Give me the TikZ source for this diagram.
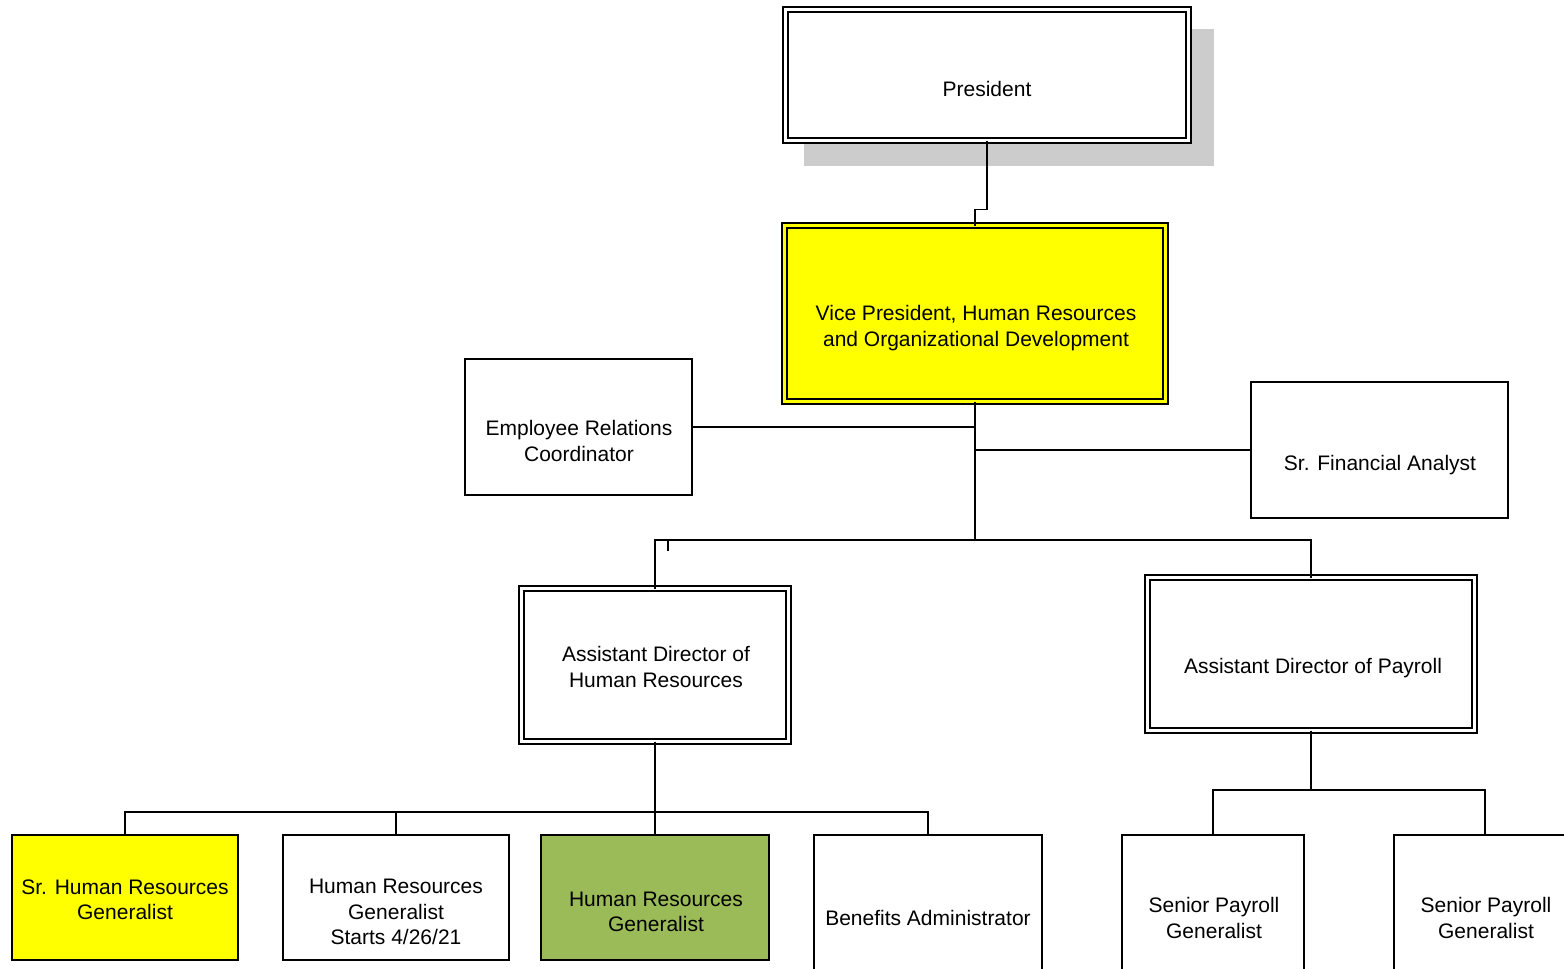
\documentclass[tikz,border=0pt]{standalone}
\usepackage{fontspec}
\setmainfont{Liberation Sans}
\definecolor{hryellow}{RGB}{255,255,0}
\definecolor{hrgreen}{RGB}{155,187,89}
\definecolor{shadowgray}{RGB}{204,204,204}

\begin{document}
\begin{tikzpicture}[x=1pt,y=-1pt,
  dblbox/.style={draw, line width=1.2pt, double=white, double distance=3.8pt,
    inner sep=0pt, outer sep=0pt},
  onebox/.style={draw, line width=1.5pt, inner sep=0pt, outer sep=0pt},
  txt/.style={align=center, inner sep=0pt, yshift=-2pt, font=\fontsize{21}{25.5}\selectfont},
  conn/.style={line width=1.5pt}]
\clip (0,0) rectangle (1564,969);

\fill[shadowgray] (804,29) rectangle (1214,166);
\node[dblbox, fill=white, minimum width=403, minimum height=131] (pres) at (987,75) {};
\node[dblbox, fill=hryellow, double=hryellow, minimum width=381, minimum height=176] (vp) at (975,313.5) {};
\node[onebox, minimum width=227, minimum height=136] (emp) at (578.5,427) {};
\node[onebox, minimum width=257, minimum height=136] (fin) at (1379.5,450) {};
\node[dblbox, minimum width=267, minimum height=153] (adhr) at (655,665) {};
\node[dblbox, minimum width=327, minimum height=153] (adpay) at (1311,654) {};

\node[onebox, fill=hryellow, minimum width=226, minimum height=125] (srhrg) at (125,897.5) {};
\node[onebox, minimum width=226, minimum height=125] (hrga) at (396,897.5) {};
\node[onebox, fill=hrgreen, minimum width=228, minimum height=125] (hrgb) at (655,897.5) {};
\node[onebox, minimum width=228, minimum height=165] (ben) at (928,917.5) {};
\node[onebox, minimum width=182, minimum height=165] (spga) at (1213,917.5) {};
\node[onebox, minimum width=182, minimum height=165] (spgb) at (1485,917.5) {};

\node[txt] (pres-t) at (987,87) {President};
\node[txt] (vp-t) at (976,326) {Vice President, Human Resources\\and Organizational Development};
\node[txt] (emp-t) at (579,439) {Employee Relations\\Coordinator};
\node[txt] (fin-t) at (1380,463) {Sr. Financial Analyst};
\node[txt] (adhr-t) at (656,665) {Assistant Director of\\Human Resources};
\node[txt] (adpay-t) at (1313,666) {Assistant Director of Payroll};
\node[txt] (srhrg-t) at (125,898) {Sr. Human Resources\\Generalist};
\node[txt] (hrga-t) at (396,910) {Human Resources\\Generalist\\Starts 4/26/21};
\node[txt] (hrgb-t) at (656,910) {Human Resources\\Generalist};
\node[txt] (ben-t) at (928,916) {Benefits Administrator};
\node[txt] (spga-t) at (1214,916) {Senior Payroll\\Generalist};
\node[txt] (spgb-t) at (1486,916) {Senior Payroll\\Generalist};

\coordinate (hub) at (vp.south |- 0,540);
\coordinate (hrbus) at (adhr.south |- 0,812);
\coordinate (paybus) at (adpay.south |- 0,790);

\draw[conn] (pres.south) -- ++(0,69) -| (vp.north);
\draw[conn] (vp.south) -- (hub);
\draw[conn] (emp.east) -- (emp.east -| vp.south);
\draw[conn] (fin.west) -- (fin.west -| vp.south);
\draw[conn] (adhr.north) |- (hub) -| (adpay.north);
\draw[conn] (668,540) -- (668,551);

\draw[conn] (adhr.south) -- (hrbus);
\foreach \n in {srhrg,hrga,hrgb,ben}
  \draw[conn] (\n.north) |- (hrbus);
\draw[conn] (adpay.south) -- (paybus);
\foreach \n in {spga,spgb}
  \draw[conn] (\n.north) |- (paybus);
\end{tikzpicture}
\end{document}
